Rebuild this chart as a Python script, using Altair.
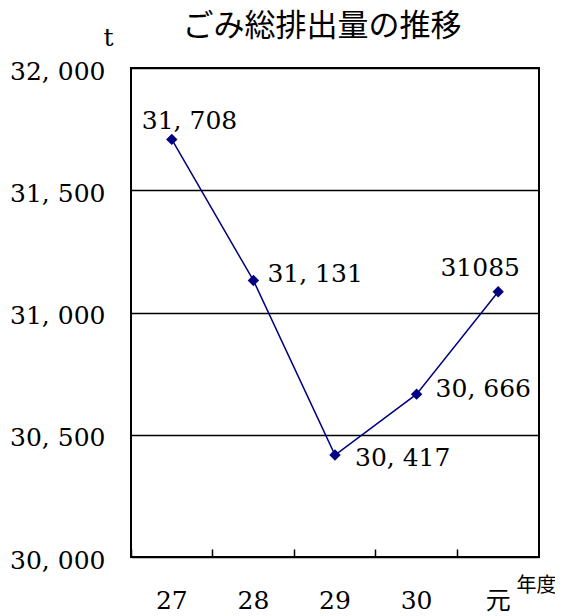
import altair as alt
import pandas as pd

categories = ["27", "28", "29", "30", "元"]
values = [31708, 31131, 30417, 30666, 31085]
labels = ["31, 708", "31, 131", "30, 417", "30, 666", "31085"]
y_ticks = [30000, 30500, 31000, 31500, 32000]

df = pd.DataFrame({"year": categories, "value": values, "label": labels})

SERIF = "DejaVu Serif"
CJK = "Noto Sans CJK JP"
NAVY = "#000080"

xscale = alt.Scale(type="band", domain=categories, paddingInner=0, paddingOuter=0)
yscale = alt.Scale(domain=[30000, 32000], nice=False, zero=False)

y_axis = alt.Axis(
    values=y_ticks,
    labelExpr="replace(format(datum.value, ','), ',', ', ')",
    labelFont=SERIF, labelFontSize=25, labelColor="black", labelPadding=26,
    labelOffset=3, labelBaseline="middle",
    domain=False, ticks=False, grid=True, gridColor="black", gridWidth=1.5,
    title="t", titleAngle=0, titleX=-23, titleY=-31, titleFont=SERIF,
    titleFontSize=25, titleFontWeight="normal", titleColor="black",
    titleAlign="center", titleBaseline="middle",
)

x_label_axis = alt.Axis(
    orient="bottom", labelFont=f"{SERIF}, {CJK}", labelFontSize=25,
    labelColor="black", labelAngle=0, labelPadding=51, labelBaseline="alphabetic",
    ticks=False, domain=False, grid=False, title="年度", titleFont=CJK,
    titleFontSize=20, titleFontWeight="normal", titleColor="black",
    titleX=405, titleY=28, titleAlign="center", titleBaseline="middle",
)

x_tick_axis = alt.Axis(
    orient="top", offset=-489, labels=False, domain=False, grid=False,
    ticks=True, tickSize=8, tickColor="black", tickWidth=1.5,
    bandPosition=0, title=None,
)

base = alt.Chart(df)
y_enc = alt.Y("value:Q", scale=yscale, axis=y_axis)

line = base.mark_line(color=NAVY, strokeWidth=1.5).encode(
    x=alt.X("year:N", scale=xscale, sort=categories, axis=x_label_axis),
    y=y_enc,
)

points = base.mark_point(
    shape="diamond", filled=True, size=130, color=NAVY, opacity=1
).encode(
    x=alt.X("year:N", scale=xscale, sort=categories, axis=x_tick_axis),
    y=y_enc,
)

def label_layer(cat, align, dx, dy):
    return base.transform_filter(alt.datum.year == cat).mark_text(
        align=align, baseline="middle", dx=dx, dy=dy, font=SERIF,
        fontSize=25, color="black",
    ).encode(
        x=alt.X("year:N", scale=xscale, sort=categories, axis=None),
        y=y_enc,
        text="label:N",
    )

texts = [
    label_layer("27", "left", -30, -18),
    label_layer("28", "left", 14, -6),
    label_layer("29", "left", 20, 3),
    label_layer("30", "left", 19, -5),
    label_layer("元", "center", -18, -24),
]

chart = alt.layer(line, points, *texts).resolve_axis(x="independent").properties(
    width=408,
    height=489,
    autosize=alt.AutoSizeParams(type="none"),
    padding={"left": 123, "top": 60, "right": 16, "bottom": 57},
    title=alt.TitleParams(
        "ごみ総排出量の推移", font=CJK, fontSize=31, fontWeight="normal",
        color="black", anchor="middle", dx=-13, offset=-33, baseline="middle",
    ),
).configure(background="white").configure_view(stroke="black", strokeWidth=2)

chart.save("out.html", embed_options={"renderer": "svg", "actions": False})
